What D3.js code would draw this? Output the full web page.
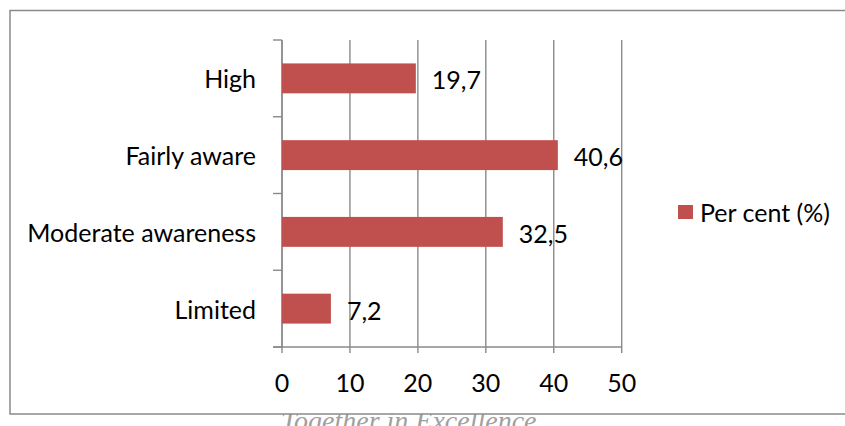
<!DOCTYPE html>
<html>
<head>
<meta charset="utf-8">
<script src="https://cdn.jsdelivr.net/npm/d3@7"></script>
<style>
  html, body { margin: 0; padding: 0; background: #fff; }
  svg { display: block; }
  text { font-family: Lato, "Open Sans", sans-serif; fill: #000; }
</style>
</head>
<body>
<svg id="chart" width="845" height="426"></svg>
<script>
// Awareness levels, listed top to bottom
const categories = ["High", "Fairly aware", "Moderate awareness", "Limited"];
const values = [19.7, 40.6, 32.5, 7.2];
const valueLabels = ["19,7", "40,6", "32,5", "7,2"];
const xTicks = [0, 10, 20, 30, 40, 50];
const seriesName = "Per cent (%)";

const svg = d3.select("#chart");
const W = 845, H = 426;
const fontSize = 25;
const gridColor = "#8a8a8a";
const barColor = "#C0504D";

// Page footer text sitting behind the chart frame
svg.append("text")
  .attr("x", 281).attr("y", 430)
  .style("font-family", "'Liberation Serif', 'DejaVu Serif', serif")
  .style("font-style", "italic")
  .style("font-size", "28px")
  .style("fill", "#a0a0a0")
  .text("Together in Excellence");

// Chart frame
svg.append("rect")
  .attr("x", 10).attr("y", 10.5)
  .attr("width", W + 10).attr("height", 403.5)
  .attr("fill", "#fff")
  .attr("stroke", gridColor).attr("stroke-width", 1.5);

const plot = { left: 282, right: 621.7, top: 40, bottom: 347 };

const x = d3.scaleLinear().domain([0, 50]).range([plot.left, plot.right]);
const y = d3.scaleBand().domain(categories).range([plot.top, plot.bottom])
  .paddingInner(0.61).paddingOuter(0.305);
const yEdge = d3.scaleLinear().domain([0, categories.length]).range([plot.top, plot.bottom]);

// Vertical gridlines
svg.append("g").selectAll("line").data(xTicks).join("line")
  .attr("x1", d => x(d)).attr("x2", d => x(d))
  .attr("y1", plot.top).attr("y2", plot.bottom + 6)
  .attr("stroke", gridColor).attr("stroke-width", 1.4);

// Category axis with ticks between bands
const yAxis = svg.append("g");
yAxis.append("line")
  .attr("x1", plot.left).attr("x2", plot.left)
  .attr("y1", plot.top).attr("y2", plot.bottom)
  .attr("stroke", gridColor).attr("stroke-width", 1.4);
yAxis.selectAll("line.tick").data(d3.range(categories.length + 1)).join("line")
  .attr("class", "tick")
  .attr("x1", plot.left - 9).attr("x2", plot.left)
  .attr("y1", d => yEdge(d)).attr("y2", d => yEdge(d))
  .attr("stroke", gridColor).attr("stroke-width", 1.4);
yAxis.selectAll("text").data(categories).join("text")
  .attr("x", 256)
  .attr("y", d => y(d) + y.bandwidth() / 2)
  .attr("text-anchor", "end")
  .attr("dominant-baseline", "central")
  .style("font-size", fontSize + "px")
  .text(d => d);

// Value axis
const xAxis = svg.append("g");
xAxis.append("line")
  .attr("x1", plot.left - 9).attr("x2", plot.right)
  .attr("y1", plot.bottom).attr("y2", plot.bottom)
  .attr("stroke", gridColor).attr("stroke-width", 1.4);
xAxis.selectAll("text").data(xTicks).join("text")
  .attr("x", d => x(d))
  .attr("y", 382)
  .attr("text-anchor", "middle")
  .attr("dominant-baseline", "central")
  .style("font-size", fontSize + "px")
  .text(d => d);

// Bars
const rows = categories.map((c, i) => ({ c, v: values[i], label: valueLabels[i] }));
svg.append("g").selectAll("rect").data(rows).join("rect")
  .attr("x", x(0))
  .attr("y", d => y(d.c))
  .attr("width", d => x(d.v) - x(0))
  .attr("height", y.bandwidth())
  .attr("fill", barColor);

// Value labels
svg.append("g").selectAll("text").data(rows).join("text")
  .attr("x", d => x(d.v) + 16)
  .attr("y", d => y(d.c) + y.bandwidth() / 2 + 1)
  .attr("dominant-baseline", "central")
  .style("font-size", fontSize + "px")
  .text(d => d.label);

// Legend
const legend = svg.append("g");
legend.append("rect")
  .attr("x", 678).attr("y", 205).attr("width", 15).attr("height", 14)
  .attr("fill", barColor);
legend.append("text")
  .attr("x", 700).attr("y", 212)
  .attr("dominant-baseline", "central")
  .style("font-size", fontSize + "px")
  .text(seriesName);
</script>
</body>
</html>
